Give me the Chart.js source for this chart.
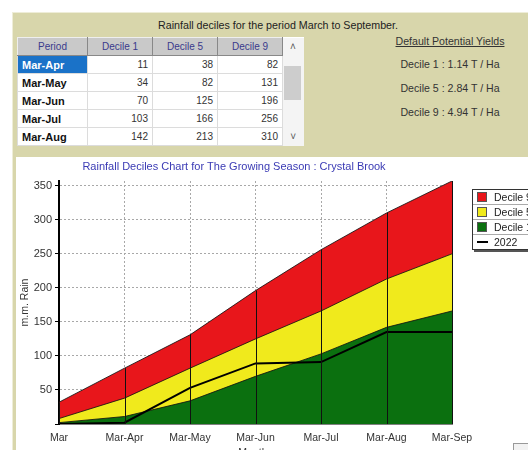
<!DOCTYPE html>
<html>
<head>
<meta charset="utf-8">
<script src="https://cdn.jsdelivr.net/npm/chart.js@4.4.1/dist/chart.umd.min.js"></script>
<style>
    html, body { margin: 0; padding: 0; width: 528px; height: 450px; overflow: hidden; background: #fff; font-family: "Liberation Sans", Arial, sans-serif; }
    #panel { position: absolute; left: 12px; top: 12px; width: 516px; height: 438px; background: #d8d6ab; border-top: 1px solid #eeedd8; border-left: 1px solid #eeedd8; box-sizing: border-box; }
    #panel-title { position: absolute; left: 0; top: 19px; width: 556px; text-align: center; font-size: 10.7px; color: #222; }
    #grid { position: absolute; left: 17px; top: 37px; border-collapse: collapse; background: #fff; font-size: 10px; }
    #grid td, #grid th { height: 18px; padding: 0 4px; border: 1px solid #dcdcdc; box-sizing: border-box; }
    #grid th { background: #c9c9c9; color: #3a3a8c; font-weight: normal; border: 1px solid #888; border-top-color: #eee; border-left-color: #eee; height: 18px; }
    #grid td.per { font-weight: bold; font-size: 11px; color: #111; text-align: left; width: 70px; }
    #grid td.sel { background: #1a72c8; color: #fff; }
    #grid td.num { text-align: right; color: #333; width: 65px; }
    #grid td.sb { width: 21px; background: #f4f4f4; border: none; padding: 0; text-align: center; color: #555; font-size: 10px; }
    #thumb { position: absolute; left: 284px; top: 66px; width: 17px; height: 34px; background: #cdcdcd; }
    #yields { position: absolute; left: 378px; top: 35px; width: 144px; text-align: center; font-size: 10.6px; color: #333; }
    #yields div { height: 24px; }
    #yields .hd { text-decoration: underline; height: 23px; }
    #chart-box { position: absolute; left: 16px; top: 157px; width: 512px; height: 293px; background: #fff; overflow: hidden; }
    #chart-box canvas { position: absolute; left: 0; top: 0; }
    #legend { position: absolute; left: 456px; top: 32px; width: 80px; border: 1px solid #333; background: #fff; box-shadow: 2px 2px 0 #555; font-size: 10.5px; color: #222; }
    #legend .row { height: 14px; line-height: 14px; border-bottom: 1px solid #aaa; position: relative; padding-left: 21px; }
    #legend .row:last-child { border-bottom: none; }
    #legend .sw { position: absolute; left: 4px; top: 2px; width: 10px; height: 10px; border: 1px solid #555; box-sizing: border-box; }
    #legend .ln { position: absolute; left: 4px; top: 6px; width: 11px; height: 2px; background: #000; }
    #check { position: absolute; left: 513px; top: 443px; width: 14px; height: 14px; border: 1px solid #999; background: #f2f2f2; }
</style>
</head>
<body>
<div id="panel"></div>
<div id="panel-title">Rainfall deciles for the period March to September.</div>
<table id="grid"></table>
<div id="thumb"></div>
<div id="yields"></div>
<div id="chart-box">
    <canvas id="rain-chart" width="512" height="302"></canvas>
    <div id="legend"></div>
</div>
<div id="check"></div>

<script>
    // Datos
    const periods = ["Mar", "Mar-Apr", "Mar-May", "Mar-Jun", "Mar-Jul", "Mar-Aug", "Mar-Sep"];
    const decile1 = [2, 11, 34, 70, 103, 142, 166];
    const decile5 = [8, 38, 82, 125, 166, 213, 250];
    const decile9 = [32, 82, 131, 196, 256, 310, 357];
    const rain2022 = [0, 2, 53, 89, 91, 135, 135];
    const yTicks = [50, 100, 150, 200, 250, 300, 350];

    const tableRows = [1, 2, 3, 4, 5];
    const yieldLabels = ["Decile 1", "Decile 5", "Decile 9"];
    const yieldValues = ["1.14", "2.84", "4.94"];

    const legendNames = ["Decile 9", "Decile 5", "Decile 1", "2022"];
    const legendColors = ["#e8161b", "#f0ea1c", "#0b700f", "#000000"];

    // Tabla de deciles, rendimientos y leyenda
    (function buildTable() {
        const table = document.getElementById("grid");
        let html = "<tr><th style='width:70px'>Period</th><th>Decile 1</th><th>Decile 5</th><th>Decile 9</th><td class='sb'>&#708;</td></tr>";
        tableRows.forEach((i, n) => {
            const last = n === tableRows.length - 1 ? "&#709;" : "";
            html += "<tr><td class='per" + (n === 0 ? " sel" : "") + "'>" + periods[i] + "</td>" +
                "<td class='num'>" + decile1[i] + "</td>" +
                "<td class='num'>" + decile5[i] + "</td>" +
                "<td class='num'>" + decile9[i] + "</td>" +
                "<td class='sb'>" + last + "</td></tr>";
        });
        table.innerHTML = html;

        const y = document.getElementById("yields");
        let yh = "<div class='hd'>Default Potential Yields</div>";
        yieldLabels.forEach((l, i) => { yh += "<div>" + l + " : " + yieldValues[i] + " T / Ha</div>"; });
        y.innerHTML = yh;

        const lg = document.getElementById("legend");
        let lh = "";
        legendNames.forEach((name, i) => {
            const mark = i === 3 ? "<span class='ln'></span>" : "<span class='sw' style='background:" + legendColors[i] + "'></span>";
            lh += "<div class='row'>" + mark + name + "</div>";
        });
        lg.innerHTML = lh;
    })();

    // Líneas verticales desde la base hasta el decil 9
    const dropLines = {
        id: "dropLines",
        afterDatasetsDraw(chart) {
            const meta = chart.getDatasetMeta(0);
            const bottom = chart.scales.y.getPixelForValue(0);
            const ctx = chart.ctx;
            ctx.save();
            ctx.strokeStyle = "#111";
            ctx.lineWidth = 1;
            meta.data.forEach(pt => {
                ctx.beginPath();
                ctx.moveTo(Math.round(pt.x) + 0.5, pt.y);
                ctx.lineTo(Math.round(pt.x) + 0.5, bottom);
                ctx.stroke();
            });
            ctx.restore();
        }
    };

    const family = "'Liberation Sans', Arial, sans-serif";

    const area = (label, data, color, order) => ({
        label: label,
        data: data,
        backgroundColor: color,
        borderColor: "rgba(20,20,20,0.85)",
        borderWidth: 1,
        fill: "origin",
        pointRadius: 0,
        tension: 0,
        order: order
    });

    new Chart(document.getElementById("rain-chart"), {
        type: "line",
        data: {
            labels: periods,
            datasets: [
                area("Decile 9", decile9, legendColors[0], 4),
                area("Decile 5", decile5, legendColors[1], 3),
                area("Decile 1", decile1, legendColors[2], 2),
                {
                    label: "2022",
                    data: rain2022,
                    borderColor: "#000",
                    borderWidth: 2,
                    fill: false,
                    pointRadius: 0,
                    order: 1
                }
            ]
        },
        options: {
            responsive: false,
            animation: false,
            devicePixelRatio: 1,
            layout: { padding: { left: 0, right: 76, top: 0, bottom: 0 } },
            plugins: {
                legend: { display: false },
                tooltip: { enabled: false },
                title: {
                    display: true,
                    text: "Rainfall Deciles Chart for The Growing Season : Crystal Brook",
                    color: "#3a3ab4",
                    font: { family: family, size: 11, weight: "normal" },
                    padding: { top: 3, bottom: 7.8 }
                }
            },
            scales: {
                x: {
                    offset: false,
                    grid: { color: "#a8a8a8", drawTicks: false },
                    border: { color: "#000", width: 1.5, dash: [2, 2] },
                    ticks: { color: "#333", font: { family: family, size: 10.5 }, padding: 8, maxRotation: 0, autoSkip: false },
                    title: { display: true, text: "Months", color: "#333", font: { family: family, size: 10.5 }, padding: 0 },
                    afterFit: s => { s.height = 35; }
                },
                y: {
                    min: 0,
                    max: Math.max(...decile9),
                    afterBuildTicks: s => {
                        s.ticks = [{ value: 0 }].concat(yTicks.map(v => ({ value: v })));
                    },
                    grid: {
                        color: c => (c.tick && c.tick.value > 0) ? "#a8a8a8" : "rgba(0,0,0,0)",
                        tickLength: 4,
                        tickColor: "#000",
                        tickBorderDash: []
                    },
                    border: { color: "#000", width: 2, dash: [2, 2] },
                    ticks: {
                        color: "#333",
                        font: { family: family, size: 11 },
                        padding: 3,
                        callback: v => v > 0 ? v : ""
                    },
                    title: { display: true, text: "m.m. Rain", color: "#333", font: { family: family, size: 10.5 }, padding: { top: 3, bottom: 0 } },
                    afterFit: s => { s.width = 43; }
                }
            }
        },
        plugins: [dropLines]
    });
</script>
</body>
</html>
